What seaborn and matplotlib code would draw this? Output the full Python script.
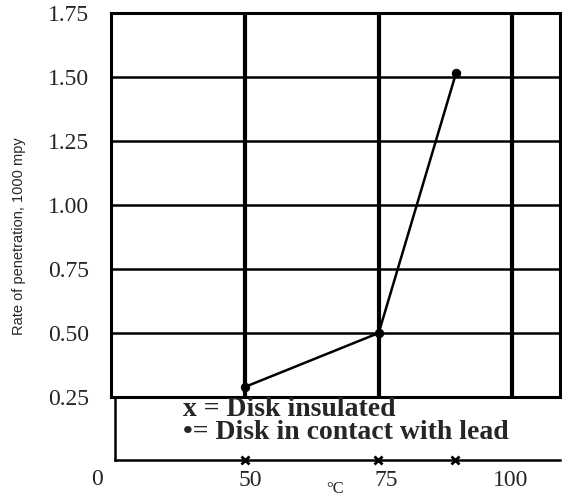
# Rate of penetration vs temperature (scanned chart recreation)
import numpy as np
import pandas as pd
import matplotlib
matplotlib.use('Agg')
import matplotlib.pyplot as plt
import seaborn as sns

# %%
# Data
temps = [50, 75, 89.5]
rates = [0.29, 0.50, 1.515]
y_ticks = [0.25, 0.50, 0.75, 1.00, 1.25, 1.50, 1.75]
y_tick_labels = ['0.25', '0.50', '0.75', '1.00', '1.25', '1.50', '1.75']
x_grid = [50, 75, 100]
x_ticks = [51, 76.5, 100]
x_tick_labels = ['50', '75', '100']
legend_lines = ['x = Disk insulated', '\u2022= Disk in contact with lead']

df = pd.DataFrame({'temp': temps, 'rate': rates})

# %%
sns.set_style('white')
plt.rcParams['font.family'] = ['Liberation Serif', 'DejaVu Serif']

W, H = 562, 498
fig = plt.figure(figsize=(W / 100, H / 100), dpi=100)

# main plot box (pixels: x 111-560, y 13-397)
ax = fig.add_axes([111 / W, 1 - 397 / H, 449 / W, 384 / H])
sns.lineplot(data=df, x='temp', y='rate', ax=ax, color='black', lw=1.8,
             marker='o', markersize=6, markeredgecolor='black', zorder=5)
ax.set_xticks([])
ax.set_yticks(y_ticks)
ax.set_yticklabels(y_tick_labels, fontsize=17)
ax.set_xlim(24.8, 109.0)
ax.set_ylim(0.25, 1.75)
ax.tick_params(axis='y', length=0, pad=16)
for yv in y_ticks[1:-1]:
    ax.axhline(yv, color='black', lw=1.8, zorder=1)
for xv in x_grid:
    ax.axvline(xv, color='black', lw=3, zorder=1)
for s in ax.spines.values():
    s.set_color('black')
    s.set_linewidth(2.2)
ax.set_xlabel('')
ax.set_ylabel('Rate of penetration, 1000 mpy', family='Liberation Sans',
              fontsize=10.5, labelpad=14)
ax.yaxis.set_label_coords(-0.19, 0.42)

# lower strip with legend text and temperature axis (pixels: x 115-560, y 397-460)
ax2 = fig.add_axes([115 / W, 1 - 460 / H, 445 / W, 63 / H])
ax2.set_yticks([])
ax2.set_xticks(x_ticks)
ax2.set_xticklabels(x_tick_labels, fontsize=17)
ax2.tick_params(axis='x', length=0, pad=7)
for side in ['top', 'right']:
    ax2.spines[side].set_visible(False)
for side in ['left', 'bottom']:
    ax2.spines[side].set_color('black')
    ax2.spines[side].set_linewidth(1.8)
ax2.patch.set_alpha(0)
# cross marks on the temperature axis at the measured temperatures
ax2.plot(temps, [0] * len(temps), ls='none', marker='x', color='black',
         markersize=6, mew=2, clip_on=False)
ax2.set_xlim(25.6, 109.2)
ax2.set_ylim(0, 1)
ax2.text(38.4, 0.80, legend_lines[0], fontsize=20, weight='bold', va='center')
ax2.text(38.4, 0.43, legend_lines[1], fontsize=20, weight='bold', va='center')

# the "0" label sits left of the lower strip
fig.text(97 / W, 1 - 479 / H, '0', fontsize=17, ha='center', va='center')
fig.text(335 / W, 0.002, '\u00b0C', fontsize=12, ha='center', va='bottom')

fig.savefig('out.png', dpi=100)
